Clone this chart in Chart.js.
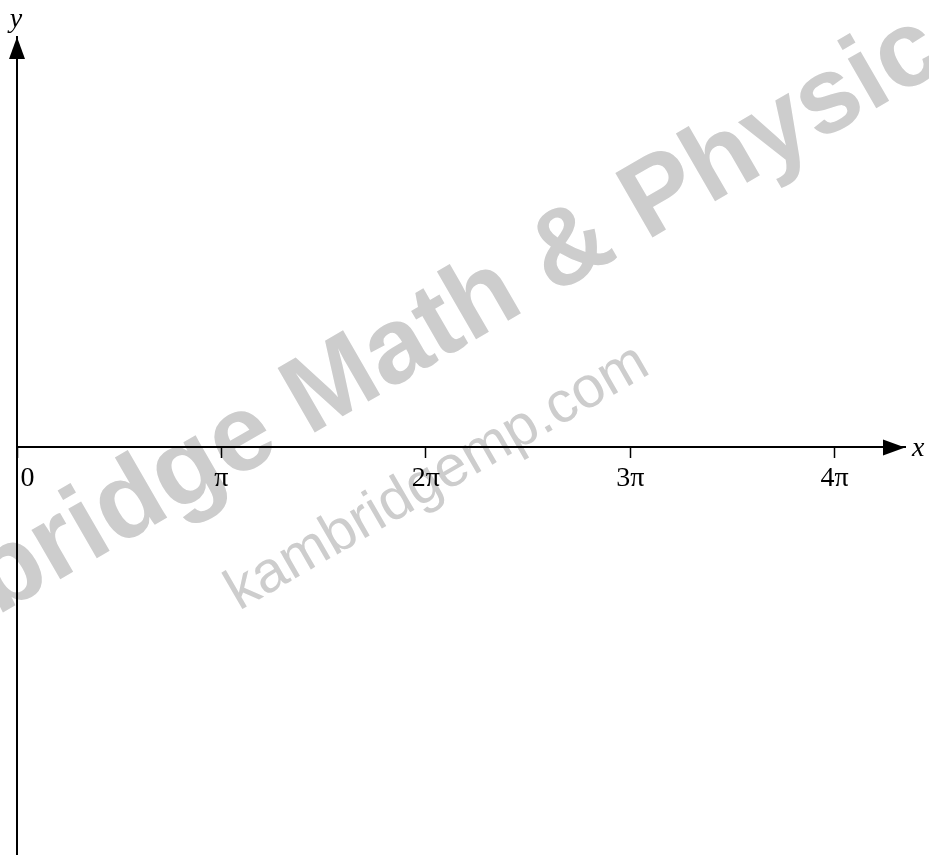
<!DOCTYPE html>
<html>
<head>
<meta charset="utf-8">
<script src="https://cdn.jsdelivr.net/npm/chart.js@4.4.0/dist/chart.umd.min.js"></script>
<style>
  body { margin: 0; background: #fff; }
  canvas { display: block; }
</style>
</head>
<body>
<canvas id="myChart" width="929" height="855"></canvas>
<script>
// tick positions (multiples of pi) and what is written under them
var xTickSteps = [0, 1, 2, 3, 4];
var xTickLabels = ['   0', 'π', '2π', '3π', '4π'];
// axis ranges
var xRange = [0, 4.344 * Math.PI];
var yRange = [-1, 1.007];
var axisNames = ['x', 'y'];
// watermark texts
var wmBig = 'Kambridge Math & Physics';
var wmSmall = 'kambridgemp.com';

const ctx = document.getElementById('myChart');

// watermark under everything, arrows + axis names on top
const axesDeco = {
  id: 'axesDeco',
  beforeDraw(chart) {
    const c = chart.ctx;
    c.save();
    c.fillStyle = '#fff';
    c.fillRect(0, 0, chart.width, chart.height);
    c.fillStyle = 'rgb(205,205,205)';
    c.textAlign = 'left';
    c.textBaseline = 'alphabetic';

    c.save();
    c.translate(-206, 733);
    c.rotate(-Math.PI / 6);
    c.font = 'bold 108px "Liberation Sans"';
    c.fillText(wmBig, 0, 0);
    c.restore();

    c.save();
    c.translate(239, 611);
    c.rotate(-Math.PI / 6);
    c.font = '58px "Liberation Sans"';
    c.fillText(wmSmall, 0, 0);
    c.restore();

    c.restore();
  },
  afterDraw(chart) {
    const c = chart.ctx;
    const x0 = chart.scales.x.getPixelForValue(0);
    const y0 = chart.scales.y.getPixelForValue(0);
    const right = chart.chartArea.right;
    const top = chart.chartArea.top;
    c.save();
    c.fillStyle = '#000';
    // x arrow
    c.beginPath();
    c.moveTo(right, y0);
    c.lineTo(right - 22, y0 - 8);
    c.lineTo(right - 22, y0 + 8);
    c.closePath();
    c.fill();
    // y arrow
    c.beginPath();
    c.moveTo(x0, top);
    c.lineTo(x0 - 8, top + 22);
    c.lineTo(x0 + 8, top + 22);
    c.closePath();
    c.fill();

    c.font = 'italic 28px "Liberation Serif"';
    c.textAlign = 'left';
    c.textBaseline = 'middle';
    c.fillText(axisNames[0], right + 7, y0 + 1.5);
    c.textAlign = 'center';
    c.textBaseline = 'alphabetic';
    c.fillText(axisNames[1], x0 - 1, 27);
    c.restore();
  }
};

var myChart1 = new Chart(ctx, {
  type: 'scatter',
  data: {
    datasets: [{
      data: [],
      showLine: false
    }]
  },
  options: {
    responsive: false,
    animation: false,
    events: [],
    layout: {
      padding: { left: 17, right: 24, top: 37, bottom: 0 }
    },
    plugins: {
      legend: { display: false },
      tooltip: { enabled: false }
    },
    scales: {
      x: {
        type: 'linear',
        position: { y: 0 },
        min: xRange[0],
        max: xRange[1],
        afterBuildTicks: function (scale) {
          scale.ticks = xTickSteps.map(function (k) { return { value: k * Math.PI }; });
        },
        // the "0" label should not push the plot area to the right
        afterFit: function (scale) {
          scale.paddingLeft = 0;
          scale.paddingRight = 0;
        },
        ticks: {
          autoSkip: false,
          maxRotation: 0,
          padding: 4,
          color: '#000',
          font: { family: '"Liberation Serif"', size: 28 },
          callback: function (value, index) {
            return xTickLabels[index];
          }
        },
        grid: {
          drawOnChartArea: false,
          drawTicks: true,
          tickLength: 10,
          tickWidth: 1.5,
          tickColor: '#000'
        },
        border: { display: true, color: '#000', width: 2 }
      },
      y: {
        type: 'linear',
        position: { x: 0 },
        min: yRange[0],
        max: yRange[1],
        ticks: { display: false },
        grid: { drawOnChartArea: false, drawTicks: false },
        border: { display: true, color: '#000', width: 2 }
      }
    }
  },
  plugins: [axesDeco]
});
</script>
</body>
</html>
